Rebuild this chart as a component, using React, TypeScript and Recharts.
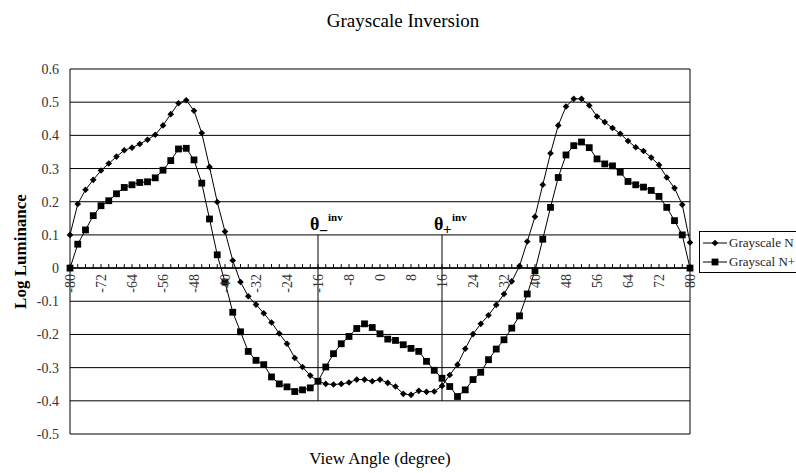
import React from "react";
import {
  LineChart,
  Line,
  XAxis,
  YAxis,
  CartesianGrid,
  ReferenceLine,
} from "recharts";

const ANGLES = [
  -80, -78, -76, -74, -72, -70, -68, -66, -64, -62, -60, -58, -56, -54, -52, -50, -48, -46, -44, -42,
  -40, -38, -36, -34, -32, -30, -28, -26, -24, -22, -20, -18, -16, -14, -12, -10, -8, -6, -4, -2,
  0, 2, 4, 6, 8, 10, 12, 14, 16, 18, 20, 22, 24, 26, 28, 30, 32, 34, 36, 38,
  40, 42, 44, 46, 48, 50, 52, 54, 56, 58, 60, 62, 64, 66, 68, 70, 72, 74, 76, 78, 80,
];

const GRAYSCALE_N = [
  0.1, 0.193, 0.236, 0.266, 0.294, 0.315, 0.336, 0.355, 0.363, 0.374, 0.387, 0.402, 0.43, 0.464, 0.497, 0.506, 0.474, 0.407, 0.305, 0.199,
  0.11, 0.023, -0.042, -0.085, -0.11, -0.136, -0.164, -0.197, -0.228, -0.271, -0.298, -0.324, -0.341, -0.349, -0.351, -0.349, -0.345, -0.336, -0.336, -0.341,
  -0.336, -0.346, -0.357, -0.379, -0.382, -0.37, -0.373, -0.372, -0.355, -0.322, -0.291, -0.243, -0.199, -0.168, -0.142, -0.111, -0.078, -0.04, 0.006, 0.08,
  0.155, 0.251, 0.346, 0.43, 0.487, 0.51, 0.51, 0.49, 0.457, 0.44, 0.422, 0.405, 0.383, 0.364, 0.353, 0.333, 0.311, 0.273, 0.241, 0.191, 0.077,
];

const GRAYSCAL_N_PLUS = [
  0.0, 0.072, 0.115, 0.158, 0.188, 0.203, 0.224, 0.243, 0.251, 0.258, 0.26, 0.272, 0.295, 0.324, 0.359, 0.361, 0.326, 0.256, 0.148, 0.04,
  -0.042, -0.133, -0.192, -0.251, -0.278, -0.291, -0.328, -0.349, -0.358, -0.372, -0.367, -0.361, -0.341, -0.298, -0.258, -0.228, -0.206, -0.182, -0.168, -0.179,
  -0.198, -0.214, -0.218, -0.231, -0.242, -0.251, -0.281, -0.308, -0.332, -0.357, -0.387, -0.367, -0.336, -0.314, -0.276, -0.244, -0.216, -0.181, -0.144, -0.078,
  -0.008, 0.087, 0.183, 0.273, 0.341, 0.369, 0.38, 0.363, 0.329, 0.314, 0.308, 0.289, 0.261, 0.251, 0.244, 0.234, 0.216, 0.183, 0.143, 0.1, 0.0,
];

const Y_TICKS = [-0.5, -0.4, -0.3, -0.2, -0.1, 0, 0.1, 0.2, 0.3, 0.4, 0.5, 0.6];
const INV_ANGLES = [-16, 16];
const SERIES_NAMES = ["Grayscale N", "Grayscal N+"];

const FONT = '"Liberation Serif", "Times New Roman", serif';
const W = 796;
const H = 473;
const MARGIN = { top: 69, right: 106, bottom: 38, left: 30 };
const X_AXIS_H = 1;
const Y_MIN = -0.5;
const Y_MAX = 0.6;
const PLOT_H = H - MARGIN.top - MARGIN.bottom - X_AXIS_H;
// the category axis crosses at y = 0, inside the plot
const ZERO_Y = MARGIN.top + (PLOT_H * Y_MAX) / (Y_MAX - Y_MIN);

const data = ANGLES.map((a, i) => ({
  angle: a,
  n: GRAYSCALE_N[i],
  nplus: GRAYSCAL_N_PLUS[i],
}));

const Diamond = (props: any) => {
  const { cx, cy } = props;
  if (cx == null || cy == null) return null;
  const r = 3.3;
  return (
    <polygon
      points={`${cx},${cy - r} ${cx + r},${cy} ${cx},${cy + r} ${cx - r},${cy}`}
      fill="#000"
    />
  );
};

const Square = (props: any) => {
  const { cx, cy } = props;
  if (cx == null || cy == null) return null;
  return <rect x={cx - 3.4} y={cy - 3.4} width={6.8} height={6.8} fill="#000" />;
};

const XTick = (props: any) => {
  const { x, payload } = props;
  const v = payload.value;
  return (
    <g>
      <line x1={x} x2={x} y1={ZERO_Y - 4} y2={ZERO_Y} stroke="#000" />
      {v % 8 === 0 && (
        <text
          transform={`translate(${x},${ZERO_Y + 6}) rotate(-90)`}
          textAnchor="end"
          dy="0.35em"
          fontSize={14}
          fontFamily={FONT}
          fill="#333"
        >
          {v}
        </text>
      )}
    </g>
  );
};

const ThetaLabel = (props: any) => {
  const { viewBox, sign } = props;
  if (!viewBox) return null;
  const x = viewBox.x;
  const y = Math.min(viewBox.y, viewBox.y + (viewBox.height || 0));
  return (
    <g fontFamily={FONT} fontWeight="bold" fill="#000">
      <text x={x - 8} y={y - 5} fontSize={18}>
        θ
      </text>
      <text x={x + 1} y={sign === "+" ? y - 1 : y + 1} fontSize={sign === "+" ? 15 : 16}>
        {sign}
      </text>
      <text x={x + 10} y={y - 14} fontSize={11}>
        inv
      </text>
    </g>
  );
};

const YTitle = (props: any) => {
  const { viewBox } = props;
  const cy = viewBox.y + viewBox.height / 2;
  return (
    <text
      transform={`translate(${viewBox.x - 4},${cy}) rotate(-90)`}
      textAnchor="middle"
      fontSize={17}
      fontWeight="bold"
      fontFamily={FONT}
      fill="#000"
    >
      Log Luminance
    </text>
  );
};

const XTitle = (props: any) => {
  const { viewBox } = props;
  return (
    <text
      x={viewBox.x + viewBox.width / 2}
      y={viewBox.y + 30}
      textAnchor="middle"
      fontSize={17}
      fontFamily={FONT}
      fill="#000"
    >
      View Angle (degree)
    </text>
  );
};

const LegendBox = () => (
  <div
    style={{
      position: "absolute",
      left: 699,
      top: 231,
      border: "1px solid #000",
      borderRight: "none",
      background: "#fff",
      width: 97,
      padding: "1px 0 1px 3px",
      fontFamily: FONT,
      fontSize: 13,
      color: "#222",
      lineHeight: "19px",
      boxSizing: "border-box",
    }}
  >
    {SERIES_NAMES.map((name, i) => (
      <div key={name} style={{ display: "flex", alignItems: "center", whiteSpace: "nowrap" }}>
        <svg width={25} height={10} style={{ marginRight: 1 }}>
          <line x1={0} x2={24} y1={5} y2={5} stroke="#000" />
          {i === 0 ? (
            <polygon points="12,1.7 15.3,5 12,8.3 8.7,5" fill="#000" />
          ) : (
            <rect x={8.6} y={1.6} width={6.8} height={6.8} fill="#000" />
          )}
        </svg>
        <span>{name}</span>
      </div>
    ))}
  </div>
);

export default function App() {
  return (
    <div
      style={{
        position: "absolute",
        left: 0,
        top: 0,
        width: W,
        height: H,
        overflow: "hidden",
        background: "#fff",
      }}
    >
      <svg
        width={W}
        height={40}
        style={{ position: "absolute", left: 0, top: 0, pointerEvents: "none" }}
      >
        <text x={403} y={27} textAnchor="middle" fontSize={19} fontFamily={FONT} fill="#000">
          Grayscale Inversion
        </text>
      </svg>
      <LineChart width={W} height={H} data={data} margin={MARGIN}>
        <CartesianGrid
          stroke="#000"
          horizontal
          vertical
          verticalCoordinatesGenerator={({ offset }: any) => [offset.left, offset.left + offset.width]}
        />
        <XAxis
          dataKey="angle"
          type="category"
          interval={0}
          height={X_AXIS_H}
          axisLine={false}
          tickLine={false}
          tick={<XTick />}
          label={<XTitle />}
        />
        <YAxis
          type="number"
          domain={[Y_MIN, Y_MAX]}
          ticks={Y_TICKS}
          width={40}
          axisLine={false}
          tickLine={false}
          tickSize={0}
          tickMargin={11}
          tick={{ fontSize: 14, fontFamily: FONT, fill: "#333" }}
          label={<YTitle />}
        />
        <ReferenceLine y={0} stroke="#000" strokeWidth={1.5} />
        {INV_ANGLES.map((a) => (
          <ReferenceLine
            key={a}
            segment={[
              { x: a, y: 0.1 },
              { x: a, y: -0.4 },
            ]}
            stroke="#000"
            label={<ThetaLabel sign={a < 0 ? "−" : "+"} />}
          />
        ))}
        <Line
          type="linear"
          dataKey="n"
          name={SERIES_NAMES[0]}
          stroke="#000"
          strokeWidth={1}
          dot={<Diamond />}
          activeDot={false}
          isAnimationActive={false}
        />
        <Line
          type="linear"
          dataKey="nplus"
          name={SERIES_NAMES[1]}
          stroke="#000"
          strokeWidth={1}
          dot={<Square />}
          activeDot={false}
          isAnimationActive={false}
        />
      </LineChart>
      <LegendBox />
    </div>
  );
}
